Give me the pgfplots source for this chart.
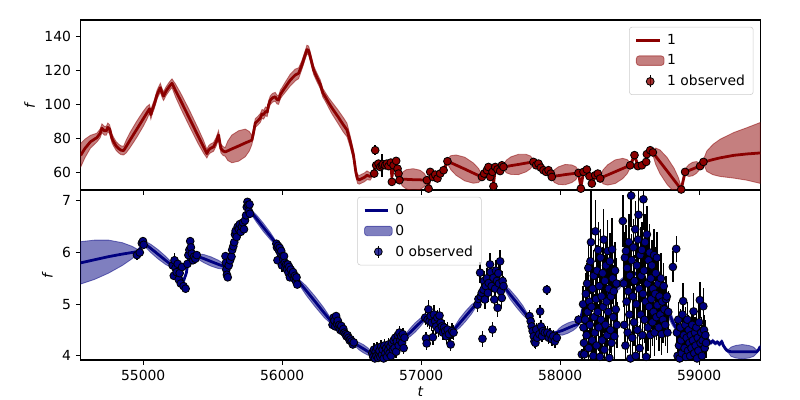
\documentclass[border=0pt]{standalone}
\usepackage{fontspec}
\setmainfont{DejaVu Sans}
\usepackage{pgfplots}
\usepackage{pgfplotstable}
\pgfplotsset{compat=1.18}
\usepgfplotslibrary{fillbetween}
\definecolor{dred}{RGB}{139,0,0}
\definecolor{navyc}{RGB}{0,0,128}
\definecolor{lgray}{RGB}{204,204,204}

\pgfplotstableread{
x y e
54550 70.0 7
54580 74 5.5
54620 78 3.8
54667 80.5 2.6
54690 83 2.6
54703 86 2.6
54720 84.5 2.6
54734 84.5 2.6
54745 86.5 2.6
54758 85.5 2.6
54775 80 2.6
54787 78 2.6
54805 75.5 2.6
54823 74 2.6
54840 73 2.6
54859 72.8 2.6
54878 75.3 3.8
54905 79.0 4.5
54952 85.2 4.8
54998 91.3 4.5
55026 95.0 3.8
55045 97.5 2.6
55055 94 2.6
55065 97 2.6
55079 100 2.6
55100 106 2.6
55123 110 2.6
55135 107 2.6
55146 105 2.6
55165 108 2.6
55190 111 2.6
55207 112.6 2.6
55232 108.4 3.8
55270 102.2 4.5
55333 91.8 4.8
55395 81.4 4.5
55433 75.2 3.8
55458 71 2.6
55470 73 2.6
55482 74 2.6
55506 75 2.6
55525 78 2.6
55542 82 2.6
55552 77 2.6
55559 74 2.6
55575 72.5 2.6
55590 72 2.6
55609 72.7 5.8
55638 73.8 8.2
55686 75.5 9
55734 77.3 8.2
55763 78.3 5.8
55782 79 2.6
55795 84 2.6
55806 89 2.6
55825 90.5 2.6
55842 92 2.6
55855 94.5 2.6
55866 94 2.6
55880 96 2.6
55892 95.5 2.6
55902 99.7 2.6
55914 102.5 2.6
55930 104 2.6
55950 104.6 2.6
55962 103 2.6
55974 102.7 2.6
55987 106 2.6
56000 107.6 2.6
56020 110 3
56058 114.5 3.5
56094 117.5 3.5
56118 118.5 3.2
56140 123 2.6
56160 128 2.6
56178 132.5 2.6
56190 132 2.6
56202 128.3 2.6
56226 120.4 2.6
56250 116 2.6
56274 112 2.6
56292 107 2.6
56310 104.6 2.6
56335 101 3
56358 98 3.5
56400 93 4
56440 88 4.3
56466 85 4
56490 78 3.3
56513 70 2.8
56530 60 2.6
56542 56 2.6
56555 55.5 2.6
56574 56.3 2.6
56592 57 2.6
56610 58.2 2.6
56633 57.5 2.2
56650 59 1.5
56662 60 1.5
56669 64 1.5
56693 64.5 1.5
56717 64 1.5
56741 64 1.5
56765 64 1.5
56782 64.5 1.5
56789 57 1.5
56801 63.5 1.5
56820 65 1.5
56837 60 1.5
56844 56 1.5
56864 55.9 4
56893 55.8 5.7
56942 55.6 6.5
56992 55.5 5.7
57021 55.4 4
57041 55.3 1.5
57053 51.5 1.5
57065 59 1.5
57084 57.5 1.5
57101 58.3 1.5
57117 57 1.5
57137 59 1.5
57161 61.2 1.5
57189 66.5 1.5
57214 65.6 4.2
57251 64.2 6
57313 61.9 7
57375 59.5 6
57412 58.1 4.2
57437 57.2 1.5
57453 59 1.5
57473 61 1.5
57484 62.5 1.5
57497 58 1.5
57513 60 1.5
57520 52.5 1.5
57533 62 1.5
57549 61.5 1.5
57568 61 1.5
57581 63.5 1.5
57592 63.1 1.5
57614 63.4 3.8
57646 63.9 5.2
57700 64.6 6
57754 65.4 5.2
57786 65.8 3.8
57808 66.1 1.5
57827 64.5 1.5
57844 65 1.5
57861 63 1.5
57880 61.5 1.5
57899 60.5 1.5
57916 61 1.5
57933 59.5 1.5
57940 57.5 1.5
57959 57.7 3.8
57988 58.0 5.2
58036 58.6 6
58084 59.1 5.2
58113 59.4 3.8
58132 59.6 1.5
58149 51 1.5
58168 60 1.5
58192 61.3 1.5
58211 58 1.5
58228 54 1.5
58252 58 1.5
58271 59 1.5
58288 56.5 1.5
58310 57.3 4.2
58342 58.4 6
58396 60.3 7
58450 62.2 6
58482 63.3 4.2
58504 64.1 1.5
58535 69.8 1.5
58559 64 1.5
58588 64.3 1.5
58619 66.3 1.5
58624 70.5 1.5
58648 72.8 1.5
58667 71.7 1.5
58687 69.5 4.8
58718 66.2 7
58769 60.8 8
58820 55.3 7
58851 52.0 4.8
58871 49.8 1.5
58899 60.2 1.5
58910 60.5 2.5
58926 61.0 3.5
58953 61.9 4
58980 62.8 3.5
58996 63.3 2.5
59007 63.6 1.5
59031 66.1 1.5
59040 66.3 3
59055 66.5 6
59100 67.5 9
59151 68.5 11
59250 70 13.5
59343 70.8 15.5
59440 71.4 18
}\meanone

\pgfplotstableread{
x y e
56669 73.0 3
56662 59.2 1
56676 64.1 1
56693 65.1 1
56705 63.1 1
56717 64.0 7
56725 64.7 1
56741 64.1 1
56753 65.1 1
56765 63.6 1
56782 65.7 1
56789 54.3 1
56801 64.1 1
56820 66.7 1
56830 62.1 1
56837 59.2 1
56844 55.3 1
57041 55.3 1
57053 50.3 1
57065 60.2 1
57084 57.2 1
57101 58.6 1
57117 56.3 1
57137 59.2 1
57161 61.2 1
57189 66.5 1
57437 57.2 1
57453 59.2 1
57473 61.2 1
57484 63.1 1
57497 57.2 1
57513 60.2 1
57520 51.7 1
57533 63.1 1
57549 61.7 1
57568 60.7 1
57581 64.1 1
57592 63.1 1
57808 66.1 1
57827 64.1 1
57844 65.1 1
57861 62.7 1
57880 61.2 1
57899 60.2 1
57916 61.2 1
57933 59.2 1
57940 57.2 1
58132 59.6 1
58149 50.3 1
58168 60.2 1
58192 61.6 2
58211 57.6 1
58228 53.3 1
58252 58.2 1
58271 59.2 1
58288 56.3 1
58504 64.1 1
58535 70.1 1
58559 63.6 1
58588 64.1 1
58619 66.1 1
58624 70.7 1
58648 73.0 2.5
58667 71.7 1
58871 49.8 1
58899 60.2 1
59007 63.6 1
59031 66.1 1
}\obsone

\pgfplotstableread{
x y e
54550 5.80 0.41
54650 5.86 0.38
54750 5.92 0.32
54850 5.97 0.22
54920 6.00 0.12
54960 6.02 0.04
54985 6.10 0.03
55002 6.19 0.03
55023 6.145 0.06
55054 6.08 0.08
55107 5.965 0.09
55160 5.85 0.08
55191 5.785 0.06
55212 5.74 0.03
55235 5.68 0.03
55260 5.55 0.03
55290 5.45 0.03
55310 5.60 0.03
55330 5.95 0.03
55345 6.05 0.03
55365 5.95 0.03
55386 5.93 0.03
55407 5.91 0.06
55438 5.88 0.08
55489 5.825 0.09
55541 5.77 0.08
55571 5.74 0.06
55592 5.72 0.03
55608 5.62 0.03
55625 5.80 0.03
55640 6.00 0.03
55660 6.30 0.03
55680 6.45 0.03
55700 6.48 0.03
55720 6.55 0.03
55740 6.72 0.03
55752 6.95 0.03
55768 6.82 0.03
55787 6.75 0.05
55817 6.65 0.07
55865 6.485 0.08
55914 6.32 0.07
55943 6.22 0.05
55962 6.15 0.03
55990 6.02 0.03
56020 5.85 0.03
56050 5.70 0.03
56080 5.60 0.03
56108 5.48 0.03
56134 5.39 0.06
56172 5.265 0.09
56237 5.05 0.1
56301 4.835 0.09
56339 4.71 0.06
56365 4.62 0.03
56400 4.60 0.03
56440 4.50 0.03
56480 4.36 0.03
56515 4.25 0.03
56529 4.23 0.05
56549 4.195 0.07
56583 4.14 0.08
56616 4.085 0.07
56637 4.05 0.05
56650 4.03 0.03
56700 4.05 0.03
56750 4.10 0.03
56800 4.18 0.03
56850 4.30 0.03
56885 4.36 0.03
56899 4.40 0.06
56921 4.455 0.08
56957 4.55 0.09
56993 4.645 0.08
57015 4.70 0.06
57029 4.74 0.03
57100 4.64 0.03
57170 4.55 0.03
57233 4.50 0.03
57250 4.55 0.06
57276 4.63 0.09
57319 4.765 0.1
57362 4.90 0.09
57388 4.98 0.06
57405 5.03 0.03
57450 5.13 0.03
57500 5.28 0.03
57560 5.35 0.03
57592 5.35 0.03
57611 5.29 0.06
57639 5.19 0.09
57686 5.035 0.1
57732 4.88 0.09
57760 4.78 0.06
57779 4.72 0.03
57830 4.48 0.03
57900 4.42 0.03
57976 4.45 0.03
57992 4.47 0.06
58015 4.49 0.09
58054 4.535 0.1
58093 4.58 0.09
58116 4.60 0.06
58132 4.62 0.03
58150 4.75 0.03
58170 4.99 0.03
58220 5.08 0.03
58300 5.15 0.03
58370 5.25 0.03
58390 5.28 0.05
58410 5.33 0.07
58425 5.37 0.08
58440 5.42 0.07
58455 5.47 0.05
58470 5.51 0.03
58550 5.60 0.03
58650 5.40 0.03
58730 5.08 0.03
58750 4.98 0.05
58770 4.90 0.08
58790 4.78 0.1
58810 4.66 0.08
58830 4.56 0.05
58845 4.50 0.03
58900 4.45 0.03
58960 4.40 0.03
59000 4.38 0.03
59055 4.35 0.03
59067 4.30 0.03
59084 4.25 0.03
59098 4.29 0.03
59115 4.24 0.03
59132 4.27 0.03
59146 4.22 0.03
59163 4.28 0.03
59174 4.20 0.03
59194 4.12 0.03
59210 4.09 0.03
59230 4.08 0.09
59262 4.08 0.12
59310 4.08 0.14
59360 4.08 0.12
59392 4.08 0.09
59415 4.08 0.03
59428 4.12 0.03
59440 4.18 0.03
}\meanzero

\pgfplotstableread{
x y e
54955 5.95 0.1
54975 6.00 0.05
54990 6.18 0.04
54998 6.22 0.04
55003 6.15 0.04
55212 5.75 0.06
55220 5.55 0.06
55225 5.85 0.15
55232 5.70 0.06
55240 5.62 0.06
55248 5.78 0.05
55255 5.48 0.05
55262 5.60 0.05
55270 5.40 0.05
55280 5.72 0.05
55290 5.35 0.04
55305 5.30 0.04
55318 5.78 0.05
55325 5.95 0.05
55332 6.05 0.06
55338 6.22 0.08
55343 6.10 0.05
55350 5.98 0.05
55358 5.85 0.05
55365 5.92 0.05
55375 5.88 0.04
55385 5.95 0.04
55592 5.93 0.05
55595 5.80 0.05
55598 5.67 0.05
55602 5.57 0.05
55608 5.52 0.05
55615 5.75 0.05
55625 5.85 0.05
55635 5.92 0.05
55640 6.05 0.05
55648 6.12 0.05
55655 6.20 0.05
55660 6.35 0.05
55665 6.42 0.05
55672 6.30 0.05
55680 6.50 0.05
55688 6.45 0.05
55695 6.55 0.05
55702 6.40 0.05
55710 6.50 0.05
55718 6.58 0.05
55725 6.45 0.05
55732 6.62 0.05
55740 6.72 0.05
55745 6.88 0.05
55750 6.98 0.05
55755 6.92 0.05
55760 6.80 0.05
55765 6.93 0.05
55768 6.75 0.05
55958 6.17 0.05
55962 6.10 0.05
55966 5.85 0.06
55970 6.13 0.05
55975 6.05 0.05
55982 6.09 0.05
55988 5.98 0.05
55993 6.03 0.05
55998 5.75 0.12
56003 5.93 0.05
56008 5.86 0.05
56013 5.93 0.05
56018 5.80 0.05
56023 5.70 0.05
56028 5.77 0.05
56035 5.67 0.05
56040 5.77 0.05
56045 5.61 0.05
56050 5.72 0.05
56055 5.52 0.05
56062 5.67 0.05
56070 5.58 0.05
56078 5.62 0.05
56085 5.50 0.05
56092 5.55 0.05
56098 5.45 0.05
56103 5.52 0.05
56108 5.38 0.05
56362 4.60 0.05
56370 4.74 0.05
56376 4.68 0.05
56382 4.57 0.05
56388 4.77 0.05
56394 4.62 0.05
56400 4.68 0.05
56406 4.55 0.05
56412 4.60 0.05
56418 4.50 0.05
56425 4.58 0.05
56432 4.48 0.05
56440 4.52 0.05
56448 4.45 0.05
56455 4.42 0.05
56462 4.38 0.05
56470 4.40 0.05
56478 4.35 0.05
56485 4.30 0.05
56492 4.32 0.05
56500 4.28 0.05
56508 4.22 0.05
56515 4.26 0.05
56648 4.05 0.12
56655 3.98 0.12
56660 4.12 0.12
56667 3.95 0.12
56672 4.08 0.12
56678 4.00 0.12
56683 4.15 0.12
56690 3.96 0.12
56695 4.05 0.12
56700 4.10 0.12
56706 3.98 0.12
56712 4.18 0.12
56718 4.02 0.12
56723 4.12 0.12
56730 3.95 0.12
56735 4.20 0.12
56742 4.05 0.12
56748 4.15 0.12
56753 3.98 0.12
56760 4.10 0.12
56765 4.22 0.12
56772 4.05 0.12
56778 4.18 0.12
56783 4.00 0.12
56790 4.25 0.12
56796 4.12 0.12
56802 4.30 0.12
56808 4.15 0.12
56813 4.35 0.12
56820 4.08 0.12
56825 4.28 0.12
56832 4.40 0.12
56838 4.20 0.12
56843 4.45 0.12
56850 4.30 0.12
56856 4.38 0.12
56862 4.25 0.12
56868 4.42 0.12
56874 4.15 0.12
56880 4.35 0.12
57029 4.74 0.15
57035 4.34 0.12
57040 4.24 0.12
57046 4.70 0.15
57052 4.90 0.18
57060 4.67 0.15
57068 4.77 0.15
57076 4.64 0.15
57084 4.36 0.15
57092 4.80 0.18
57100 4.67 0.15
57108 4.57 0.15
57116 4.74 0.15
57124 4.51 0.15
57132 4.78 0.15
57140 4.64 0.15
57148 4.57 0.15
57156 4.45 0.15
57164 4.55 0.15
57172 4.48 0.15
57180 4.38 0.15
57190 4.51 0.15
57200 4.42 0.15
57212 4.22 0.12
57222 4.48 0.15
57233 4.45 0.15
57405 4.99 0.15
57412 5.10 0.15
57424 5.61 0.2
57428 5.15 0.15
57436 5.22 0.18
57441 4.33 0.15
57448 5.28 0.18
57452 5.45 0.2
57458 5.09 0.18
57465 5.35 0.2
57473 5.50 0.2
57480 5.22 0.18
57486 5.41 0.2
57495 5.77 0.22
57500 5.62 0.2
57507 5.35 0.2
57513 4.51 0.15
57520 5.51 0.2
57526 5.09 0.18
57532 5.30 0.2
57538 5.65 0.2
57545 5.45 0.2
57550 4.93 0.18
57555 5.60 0.22
57560 5.40 0.2
57568 5.83 0.22
57573 5.25 0.2
57580 5.12 0.2
57586 5.45 0.2
57592 5.35 0.2
57779 4.77 0.12
57788 4.67 0.12
57795 4.57 0.12
57802 4.48 0.12
57810 4.38 0.12
57815 4.28 0.12
57822 4.25 0.12
57828 4.51 0.12
57835 4.35 0.12
57850 4.42 0.12
57856 4.86 0.12
57862 4.57 0.12
57870 4.38 0.12
57876 4.48 0.12
57890 4.45 0.12
57904 5.28 0.1
57908 4.45 0.12
57918 4.35 0.12
57928 4.42 0.12
57940 4.32 0.12
57950 4.38 0.12
57962 4.28 0.12
57976 4.35 0.12
58132 4.70 0.1
58156 4.03 0.1
58165 5.00 0.35
58168 4.55 0.3
58171 4.25 0.3
58174 4.03 0.3
58180 4.70 0.35
58185 5.20 0.4
58190 4.40 0.35
58194 5.40 0.4
58198 4.85 0.4
58203 5.70 0.45
58206 4.15 0.35
58210 5.05 0.4
58214 4.60 0.4
58218 5.83 0.5
58222 6.20 1.0
58226 4.95 0.45
58230 4.30 0.4
58234 5.30 0.45
58238 4.00 0.35
58242 5.55 0.5
58246 4.75 0.45
58250 4.45 0.4
58254 6.41 0.6
58258 5.10 0.5
58262 4.20 0.4
58266 5.65 0.5
58270 4.85 0.45
58274 6.05 0.55
58278 4.55 0.45
58282 5.35 0.5
58286 3.98 0.4
58290 5.90 0.55
58294 4.70 0.45
58298 5.15 0.5
58302 4.30 0.45
58306 5.60 0.5
58310 4.95 0.5
58314 6.25 0.6
58318 4.12 0.4
58322 5.45 0.5
58326 4.60 0.45
58330 5.75 0.55
58334 5.05 0.5
58338 4.40 0.45
58342 6.03 0.6
58346 4.85 0.5
58350 5.30 0.5
58354 3.96 0.4
58358 5.83 0.55
58362 4.50 0.45
58366 5.15 0.5
58370 4.25 0.45
58374 6.06 0.6
58378 5.50 0.5
58382 4.75 0.5
58386 5.25 0.5
58390 4.38 0.45
58395 5.65 0.55
58400 4.90 0.5
58405 5.40 0.5
58408 4.60 0.45
58451 6.61 0.5
58458 5.40 0.45
58462 4.60 0.4
58466 5.90 0.5
58470 4.20 0.4
58474 6.03 0.5
58478 5.05 0.45
58482 5.70 0.5
58486 4.45 0.4
58490 5.25 0.45
58494 6.20 0.55
58498 4.80 0.45
58502 5.55 0.5
58506 3.95 0.4
58511 7.10 0.6
58515 5.85 0.5
58519 4.35 0.45
58523 5.15 0.5
58527 6.10 0.55
58531 4.65 0.45
58535 5.45 0.5
58540 6.45 0.55
58544 4.00 0.4
58548 5.00 0.5
58552 5.75 0.5
58556 4.50 0.45
58560 6.25 0.55
58564 6.73 0.6
58568 5.30 0.5
58572 4.15 0.45
58576 5.95 0.55
58580 4.80 0.5
58584 5.55 0.5
58588 6.05 0.55
58592 4.40 0.45
58596 5.20 0.5
58599 7.03 0.6
58603 5.65 0.5
58607 4.70 0.45
58611 6.20 0.55
58615 5.05 0.5
58619 3.98 0.4
58624 6.35 0.55
58628 5.40 0.5
58632 4.55 0.45
58636 5.85 0.5
58640 4.95 0.5
58644 6.00 0.55
58648 4.40 0.45
58652 5.50 0.5
58656 5.10 0.5
58660 5.75 0.5
58664 4.65 0.45
58668 5.30 0.5
58672 4.85 0.45
58676 5.95 0.5
58680 4.45 0.45
58684 5.20 0.5
58688 5.60 0.5
58692 4.75 0.45
58696 5.90 0.5
58700 4.98 0.45
58705 5.40 0.5
58710 4.55 0.45
58715 5.15 0.45
58720 4.80 0.45
58725 5.50 0.5
58730 4.42 0.4
58735 5.05 0.45
58740 4.70 0.45
58745 5.35 0.45
58750 4.90 0.45
58756 4.60 0.4
58762 5.10 0.45
58767 5.15 0.4
58772 4.45 0.4
58778 4.85 0.4
58811 5.72 0.3
58835 6.07 0.25
58840 4.45 0.3
58845 4.00 0.3
58850 4.70 0.35
58855 4.20 0.3
58860 3.95 0.3
58865 4.55 0.35
58870 4.30 0.3
58875 4.05 0.3
58880 4.80 0.35
58885 5.06 0.35
58890 4.40 0.3
58895 4.15 0.3
58900 4.60 0.35
58905 3.98 0.3
58910 4.35 0.3
58915 4.70 0.35
58920 4.10 0.3
58925 4.50 0.3
58930 4.25 0.3
58935 4.00 0.3
58940 4.40 0.3
58945 4.15 0.3
58950 4.60 0.3
58955 4.30 0.3
58960 4.86 0.35
58965 4.05 0.3
58970 4.45 0.3
58975 4.20 0.3
58980 4.55 0.3
58985 3.95 0.3
58990 4.35 0.3
58995 4.10 0.3
59000 4.65 0.35
59005 5.08 0.35
59010 4.25 0.3
59015 4.45 0.3
59020 4.00 0.3
59025 4.30 0.3
59030 4.96 0.35
59035 4.50 0.3
59040 4.15 0.3
59045 4.40 0.3
59050 4.25 0.3
}\obszero

\pgfplotsset{
  myax/.style={
    scale only axis, width=489.3pt, height=122.4pt,
    xmin=54550, xmax=59440,
    tick align=outside, xtick pos=left, ytick pos=left,
    major tick length=3.5pt,
    tick style={black, line width=0.8pt},
    axis line style={line width=0.8pt},
    xtick={55000,56000,57000,58000,59000},
    scaled x ticks=false, scaled y ticks=false,
    /pgf/number format/1000 sep={},
    /pgf/number format/assume math mode=true,
    tick label style={font=\fontsize{10}{12}\selectfont},
    label style={font=\fontsize{10}{12}\selectfont},
    ylabel={\textit{f}},
    legend cell align=left,
    legend style={draw=lgray, rounded corners=2pt, fill=white, fill opacity=0.8, text opacity=1,
      font=\fontsize{10}{12}\selectfont, inner xsep=4pt, inner ysep=3pt, row sep=2pt},
  }
}

\begin{document}
\begin{tikzpicture}
\begin{axis}[myax, at={(58.1pt,151.2pt)}, anchor=south west,
  ymin=49.5, ymax=150, ytick={60,80,100,120,140}, xticklabels={},
  legend style={at={(0.99,0.96)}, anchor=north east}]
\addplot[dred, line width=2pt, line join=round] table[x=x,y=y]{\meanone};
\addlegendentry{1}
\addplot[name path=u1, draw=none, forget plot] table[x=x, y expr=\thisrow{y}+\thisrow{e}]{\meanone};
\addplot[name path=l1, draw=none, forget plot] table[x=x, y expr=\thisrow{y}-\thisrow{e}]{\meanone};
\addplot[fill=dred, fill opacity=0.5, draw=dred, draw opacity=0.5, line width=0.6pt,
  legend image code/.code={\draw[fill=dred, fill opacity=0.5, draw=dred, draw opacity=0.5] (0cm,-0.12cm) rectangle (0.7cm,0.12cm);}]
  fill between[of=u1 and l1];
\addlegendentry{1}
\addplot[only marks, mark=none, forget plot,
  error bars/.cd, y dir=both, y explicit, error mark=none,
  error bar style={black, line width=1pt, solid}]
  table[x=x,y=y,y error=e]{\obsone};
\addplot[only marks, mark=*, draw=black, fill=dred, mark size=2.8pt, mark options={line width=0.6pt},
  legend image code/.code={\draw[black, line width=1pt] (0.35cm,-0.15cm) -- (0.35cm,0.15cm);
    \draw[black, fill=dred, line width=0.6pt] (0.35cm,0cm) circle (2.8pt);}]
  table[x=x,y=y]{\obsone};
\addlegendentry{1 observed}
\end{axis}

\begin{axis}[myax, at={(58.1pt,28.8pt)}, anchor=south west,
  ymin=3.92, ymax=7.21, ytick={4,5,6,7}, xlabel={\textit{t}},
  xlabel style={yshift=2pt},
  legend style={at={(0.407,0.96)}, anchor=north west}]
\addplot[navyc, line width=2pt, line join=round] table[x=x,y=y]{\meanzero};
\addlegendentry{0}
\addplot[name path=u0, draw=none, forget plot] table[x=x, y expr=\thisrow{y}+\thisrow{e}]{\meanzero};
\addplot[name path=l0, draw=none, forget plot] table[x=x, y expr=\thisrow{y}-\thisrow{e}]{\meanzero};
\addplot[fill=navyc, fill opacity=0.5, draw=navyc, draw opacity=0.5, line width=0.6pt,
  legend image code/.code={\draw[fill=navyc, fill opacity=0.5, draw=navyc, draw opacity=0.5] (0cm,-0.12cm) rectangle (0.7cm,0.12cm);}]
  fill between[of=u0 and l0];
\addlegendentry{0}
\addplot[only marks, mark=none, forget plot,
  error bars/.cd, y dir=both, y explicit, error mark=none,
  error bar style={black, line width=1pt, solid}]
  table[x=x,y=y,y error=e]{\obszero};
\addplot[only marks, mark=*, draw=black, fill=navyc, mark size=2.8pt, mark options={line width=0.6pt},
  legend image code/.code={\draw[black, line width=1pt] (0.35cm,-0.15cm) -- (0.35cm,0.15cm);
    \draw[black, fill=navyc, line width=0.6pt] (0.35cm,0cm) circle (2.8pt);}]
  table[x=x,y=y]{\obszero};
\addlegendentry{0 observed}
\end{axis}
\pgfresetboundingbox
\path[use as bounding box] (0,0) rectangle (576pt,288pt);
\end{tikzpicture}
\end{document}
